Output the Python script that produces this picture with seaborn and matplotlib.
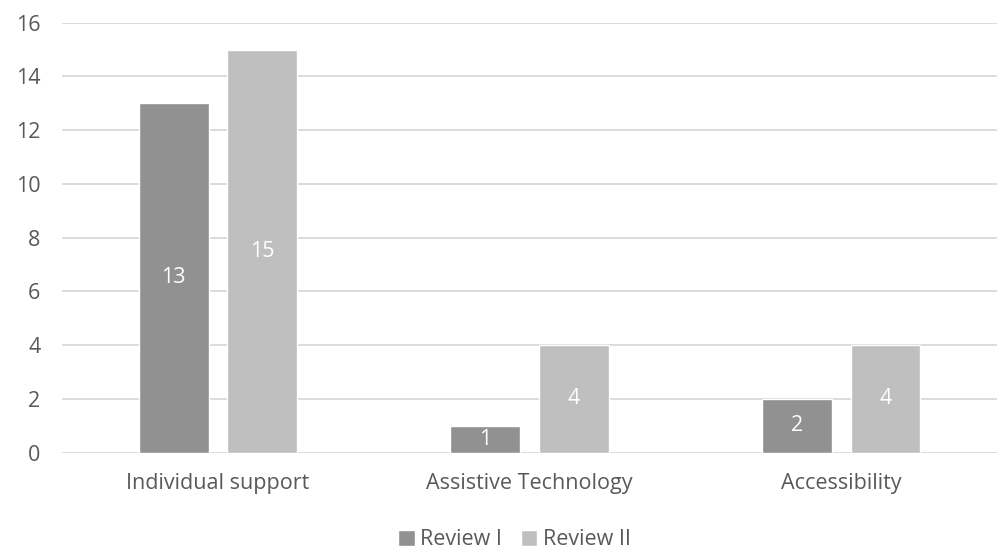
import matplotlib
matplotlib.use("Agg")
import matplotlib.pyplot as plt
import pandas as pd
import seaborn as sns

categories = ["Individual support", "Assistive Technology", "Accessibility"]
series = ["Review I", "Review II"]
review_1 = [13, 1, 2]
review_2 = [15, 4, 4]
colors = ["#919191", "#bfbfbf"]

df = pd.DataFrame({
    "category": categories * 2,
    "review": [series[0]] * 3 + [series[1]] * 3,
    "value": review_1 + review_2,
})

sns.set_style("white")
plt.rcParams["font.family"] = ["Open Sans", "DejaVu Sans"]
text_color = "#595959"
fs = 15.5

fig = plt.figure(figsize=(9.98, 5.52), dpi=100)
ax = fig.add_axes([0.0621, 0.18, 0.937, 0.779])

sns.barplot(data=df, x="category", y="value", hue="review", order=categories,
            hue_order=series, palette=colors, width=0.567, gap=0.21,
            saturation=1, ax=ax, legend=True)

# value labels in the middle of each bar
for cont in ax.containers:
    ax.bar_label(cont, label_type="center", color="white", fontsize=fs)

ax.set_ylim(0, 16)
ax.set_yticks(range(0, 17, 2))
ax.set_xlim(-0.5, 2.5)
ax.yaxis.grid(True, color="#d9d9d9", linewidth=1.3)
ax.set_axisbelow(True)
for s in ax.spines.values():
    s.set_visible(False)
ax.tick_params(axis="y", length=0, pad=15.5, labelsize=fs, labelcolor=text_color)
ax.tick_params(axis="x", length=0, pad=14.5, labelsize=fs, labelcolor=text_color)
ax.set_xlabel("")
ax.set_ylabel("")

ax.legend(loc="center", bbox_to_anchor=(0.484, -0.203), ncol=2, frameon=False,
          fontsize=fs, labelcolor=text_color, handlelength=0.75, handleheight=0.75,
          handletextpad=0.25, columnspacing=0.9, borderpad=0)

fig.savefig("out.png", dpi=100)
